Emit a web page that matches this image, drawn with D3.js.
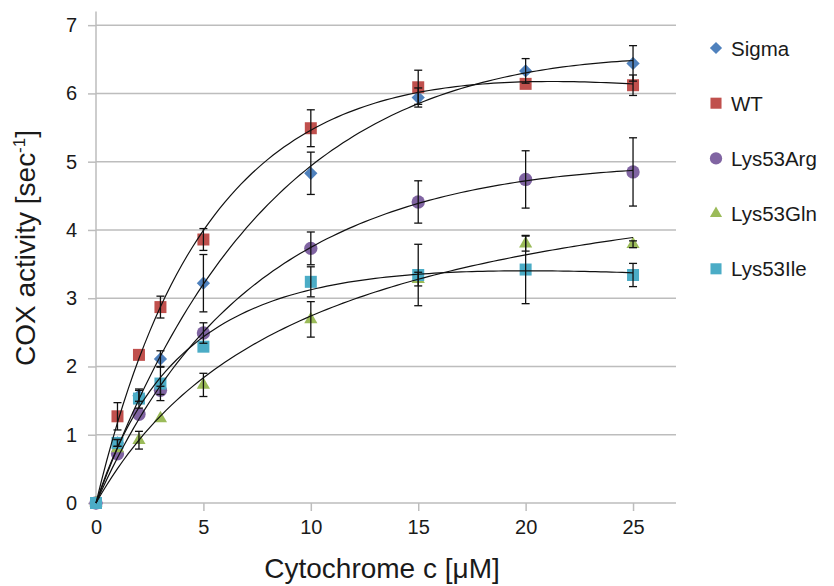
<!DOCTYPE html>
<html>
<head>
  <meta charset="utf-8">
  <title>COX activity</title>
  <script src="https://d3js.org/d3.v7.min.js"></script>
  <style>
    body { margin: 0; background: #fff; }
    text { font-family: "Liberation Sans", Arial, sans-serif; fill: #1a1a1a; }
  </style>
</head>
<body>
<div id="chart"></div>
<script type="text/javascript">

// cytochrome c concentration (uM)
var conc = [0, 1, 2, 3, 5, 10, 15, 20, 25];

var seriesNames = ["Sigma", "WT", "Lys53Arg", "Lys53Gln", "Lys53Ile"];

// COX activity (sec^-1)
var sigma  = [0, 0.88, 1.57, 2.11, 3.22, 4.83, 5.94, 6.33, 6.44];
var wt     = [0, 1.27, 2.17, 2.87, 3.86, 5.49, 6.09, 6.14, 6.12];
var lysArg = [0, 0.72, 1.30, 1.65, 2.49, 3.73, 4.41, 4.74, 4.85];
var lysGln = [0, 0.80, 0.92, 1.24, 1.73, 2.69, 3.28, 3.80, 3.79];
var lysIle = [0, 0.88, 1.53, 1.75, 2.29, 3.24, 3.34, 3.42, 3.34];

// error bar half-lengths
var sigmaErr  = [0, 0.05, 0.08, 0.12, 0.42, 0.31, 0.14, 0.18, 0.26];
var wtErr     = [0, 0.20, 0, 0.16, 0.16, 0.27, 0.25, 0, 0.15];
var lysArgErr = [0, 0, 0, 0.06, 0.15, 0.24, 0.31, 0.42, 0.50];
var lysGlnErr = [0, 0, 0.13, 0, 0.17, 0.26, 0.10, 0.11, 0.05];
var lysIleErr = [0, 0.05, 0.14, 0.25, 0, 0.22, 0.45, 0.50, 0.17];

var yTicks = [0, 1, 2, 3, 4, 5, 6, 7];
var xTicks = [0, 5, 10, 15, 20, 25];

var colors = ["#4F81BD", "#C0504D", "#8064A2", "#9BBB59", "#4BACC6"];
var shapes = ["diamond", "square", "circle", "triangle", "square"];

var allY = [sigma, wt, lysArg, lysGln, lysIle];
var allErr = [sigmaErr, wtErr, lysArgErr, lysGlnErr, lysIleErr];

var series = seriesNames.map(function(n, i){
  return {name: n, color: colors[i], shape: shapes[i],
    points: conc.map(function(c, j){ return {x: c, y: allY[i][j], e: allErr[i][j]}; })};
});

var W = 834, H = 586;
var x = d3.scaleLinear().domain([0, 27]).range([96, 676]);
var y = d3.scaleLinear().domain([0, 7.2]).range([503, 11.5]);

var svg = d3.select("#chart").append("svg").attr("width", W).attr("height", H);

// gridlines
svg.append("g").selectAll("line").data(yTicks.slice(1)).enter().append("line")
  .attr("x1", x(0)).attr("x2", x(27))
  .attr("y1", function(d){ return y(d); }).attr("y2", function(d){ return y(d); })
  .attr("stroke", "#bdbdbd").attr("stroke-width", 1.5);

// axes
var yAxis = d3.axisLeft(y).tickValues(yTicks).tickSize(8).tickPadding(11).tickFormat(d3.format("d"));
var xAxis = d3.axisBottom(x).tickValues(xTicks).tickSize(8).tickPadding(9).tickFormat(d3.format("d"));

var gy = svg.append("g").attr("transform", "translate(" + x(0) + ",0)").call(yAxis);
var gx = svg.append("g").attr("transform", "translate(0," + y(0) + ")").call(xAxis);
[gx, gy].forEach(function(g){
  g.select(".domain").attr("stroke", "#bdbdbd").attr("stroke-width", 1.5);
  g.selectAll(".tick line").attr("stroke", "#bdbdbd").attr("stroke-width", 1.5);
  g.selectAll(".tick text").style("font-size", "20px").attr("fill", "#1a1a1a")
    .style("font-family", "'Liberation Sans', Arial, sans-serif");
});
gx.select(".tick line").remove(); // no tick at 0 on x
gy.select(".domain").attr("d", "M0," + y(0) + "V" + y(7.2));
gx.select(".domain").attr("d", "M" + x(0) + ",0H" + x(27));

// substrate-inhibition Michaelis-Menten fit: v = V*S/(K + S + a*S^2)
function model(p, s) {
  var V = Math.exp(p[0]), K = Math.exp(p[1]), a = p[2] * p[2];
  return V * s / (K + s + a * s * s);
}
function fitCurve(xs, ys) {
  var sse = function(p){
    var t = 0;
    xs.forEach(function(v, k){ var r = model(p, v) - ys[k]; t += r * r; });
    return t;
  };
  // Nelder-Mead
  var simplex = [[Math.log(8), Math.log(5), 0.05], [Math.log(10), Math.log(5), 0.05],
                 [Math.log(8), Math.log(8), 0.05], [Math.log(8), Math.log(5), 0.15]];
  var vals = simplex.map(sse);
  for (var it = 0; it < 3000; it++) {
    var idx = d3.range(4).sort(function(a, b){ return vals[a] - vals[b]; });
    simplex = idx.map(function(i){ return simplex[i]; });
    vals = idx.map(function(i){ return vals[i]; });
    var cen = [0, 0, 0];
    for (var i = 0; i < 3; i++) for (var j = 0; j < 3; j++) cen[j] += simplex[i][j] / 3;
    var worst = simplex[3];
    var refl = cen.map(function(c, j){ return c + (c - worst[j]); });
    var fr = sse(refl);
    if (fr < vals[0]) {
      var exp = cen.map(function(c, j){ return c + 2 * (c - worst[j]); });
      var fe = sse(exp);
      if (fe < fr) { simplex[3] = exp; vals[3] = fe; } else { simplex[3] = refl; vals[3] = fr; }
    } else if (fr < vals[2]) {
      simplex[3] = refl; vals[3] = fr;
    } else {
      var con = cen.map(function(c, j){ return c + 0.5 * (worst[j] - c); });
      var fc = sse(con);
      if (fc < vals[3]) { simplex[3] = con; vals[3] = fc; }
      else {
        for (var k = 1; k < 4; k++) {
          simplex[k] = simplex[k].map(function(v, j){ return simplex[0][j] + 0.5 * (v - simplex[0][j]); });
          vals[k] = sse(simplex[k]);
        }
      }
    }
  }
  var best = simplex[0];
  return function(s){ return model(best, s); };
}

function symbolPath(shape, big) {
  var k = big ? 1 : 0.85;
  if (shape == "square") return d3.symbol().type(d3.symbolSquare).size(144 * k)();
  if (shape == "diamond") return d3.symbol().type(d3.symbolSquare).size(88 * k)();
  if (shape == "circle") return d3.symbol().type(d3.symbolCircle).size(140 * k)();
  return d3.symbol().type(d3.symbolTriangle).size(75 * k)();
}

// markers
series.forEach(function(s){
  svg.append("g").selectAll("path").data(s.points).enter().append("path")
    .attr("d", symbolPath(s.shape, true))
    .attr("transform", function(d){
      return "translate(" + x(d.x) + "," + y(d.y) + ")" + (s.shape == "diamond" ? " rotate(45)" : "");
    })
    .attr("fill", s.color);
});

// error bars
series.forEach(function(s){
  var g = svg.append("g").attr("stroke", "#111").attr("stroke-width", 1.3);
  s.points.filter(function(d){ return d.e > 0; }).forEach(function(d){
    var cx = x(d.x), t = y(d.y + d.e), b = y(d.y - d.e);
    g.append("line").attr("x1", cx).attr("x2", cx).attr("y1", t).attr("y2", b);
    g.append("line").attr("x1", cx - 4).attr("x2", cx + 4).attr("y1", t).attr("y2", t);
    g.append("line").attr("x1", cx - 4).attr("x2", cx + 4).attr("y1", b).attr("y2", b);
  });
});

// fitted curves
var line = d3.line().x(function(d){ return x(d[0]); }).y(function(d){ return y(d[1]); });
series.forEach(function(s){
  var f = fitCurve(conc, s.points.map(function(d){ return d.y; }));
  var pts = d3.range(0, 25.01, 0.25).map(function(v){ return [v, f(v)]; });
  svg.append("path").attr("d", line(pts)).attr("fill", "none")
    .attr("stroke", "#111").attr("stroke-width", 1.2);
});

// legend
var leg = svg.append("g");
series.forEach(function(s, i){
  var ly = 48 + i * 55.2;
  leg.append("path").attr("d", symbolPath(s.shape, false))
    .attr("transform", "translate(716," + ly + ")" + (s.shape == "diamond" ? " rotate(45)" : ""))
    .attr("fill", s.color);
  leg.append("text").attr("x", 731).attr("y", ly + 7.5).style("font-size", "20.5px").text(s.name);
});

// axis titles
svg.append("text").attr("x", 382).attr("y", 578).attr("text-anchor", "middle")
  .style("font-size", "28px").text("Cytochrome c [\u03bcM]");

var yl = svg.append("text").attr("transform", "translate(35,248) rotate(-90)")
  .attr("text-anchor", "middle").style("font-size", "28px");
yl.append("tspan").text("COX activity [sec");
yl.append("tspan").attr("dy", -10).style("font-size", "17px").text("-1");
yl.append("tspan").attr("dy", 10).text("]");

</script>
</body>
</html>
